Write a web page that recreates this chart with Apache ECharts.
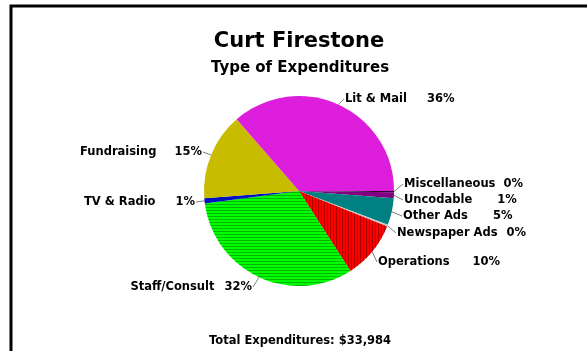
<!DOCTYPE html>
<html>
<head>
<meta charset="utf-8">
<script src="https://cdn.jsdelivr.net/npm/echarts@6/dist/echarts.min.js"></script>
<style>
html,body{margin:0;padding:0;background:#fff;}
#chart{width:587px;height:351px;}
</style>
</head>
<body>
<div id="chart"></div>
<script>
// ---- data (clockwise from 3 o'clock) ----
const categories = ['Miscellaneous','Uncodable','Other Ads','Newspaper Ads','Operations','Staff/Consult','TV & Radio','Fundraising','Lit & Mail'];
const shares = [0.2, 1.0, 4.6, 0.3, 9.8, 32.0, 0.9, 14.8, 36.4];
const percentLabels = ['0%','1%','5%','0%','10%','32%','1%','15%','36%'];
const titleText = 'Curt Firestone';
const subtitleText = 'Type of Expenditures';
const totalText = 'Total Expenditures: $33,984';

// ---- styling / layout ----
const FONT = 'DejaVu Sans';
const sliceStyle = {
  'Miscellaneous': {color:'#2a0a2a'},
  'Uncodable': {color:'#800080'},
  'Other Ads': {color:'#008080'},
  'Newspaper Ads': {color:'#c8c8c8'},
  'Operations': {color:'#ff0000', decal:{symbol:'rect', symbolSize:1, dashArrayX:[1,2], dashArrayY:[1,0], color:'rgba(110,0,0,0.55)'}},
  'Staff/Consult': {color:'#00ff00', decal:{symbol:'rect', symbolSize:1, dashArrayX:[1,0], dashArrayY:[1,2], color:'rgba(0,90,0,0.45)'}},
  'TV & Radio': {color:'#0010c0'},
  'Fundraising': {color:'#c8bc00'},
  'Lit & Mail': {color:'#dc1edc'}
};
// label anchor: side ('L' = text starts at x, 'R' = text ends at x), y center, gap between name and percent
const labelPlace = {
  'Miscellaneous': {side:'L', x:404, y:184, gap:8},
  'Uncodable': {side:'L', x:404, y:200, gap:25},
  'Other Ads': {side:'L', x:403, y:216, gap:25},
  'Newspaper Ads': {side:'L', x:397, y:233, gap:9},
  'Operations': {side:'L', x:378, y:262, gap:23},
  'Staff/Consult': {side:'R', x:252, y:287, gap:10},
  'TV & Radio': {side:'R', x:195, y:202, gap:20},
  'Fundraising': {side:'R', x:202, y:152, gap:18},
  'Lit & Mail': {side:'L', x:345, y:99, gap:20}
};

const chart = echarts.init(document.getElementById('chart'), null, {renderer:'canvas'});

const richGaps = {};
Object.values(labelPlace).forEach(p => { richGaps['g' + p.gap] = {width: p.gap}; });

const data = categories.map((name, i) => ({
  name: name,
  value: shares[i],
  itemStyle: Object.assign({}, sliceStyle[name])
}));

const option = {
  animation: false,
  backgroundColor: '#ffffff',
  graphic: [
    {type:'rect', shape:{x:11, y:6, width:620, height:400}, style:{fill:'none', stroke:'#000', lineWidth:3}, silent:true},
    {type:'text', x:299, y:42, style:{text:titleText, font:'bold 21px "' + FONT + '"', fill:'#000', align:'center', verticalAlign:'middle'}},
    {type:'text', x:300, y:68, style:{text:subtitleText, font:'bold 15px "' + FONT + '"', fill:'#000', align:'center', verticalAlign:'middle'}},
    {type:'text', x:300, y:341, style:{text:totalText, font:'bold 11.5px "' + FONT + '"', fill:'#000', align:'center', verticalAlign:'middle'}}
  ],
  series: [{
    type: 'pie',
    center: [299, 191],
    radius: [0, 95],
    startAngle: 0,
    clockwise: true,
    minAngle: 0,
    avoidLabelOverlap: false,
    itemStyle: {borderWidth: 0},
    emphasis: {disabled: true},
    label: {
      show: true,
      position: 'outside',
      fontFamily: FONT,
      fontWeight: 'bold',
      fontSize: 11.5,
      color: '#000',
      formatter: function (p) {
        const lp = labelPlace[p.name];
        return '{n|' + p.name + '}{g' + lp.gap + '|}{n|' + percentLabels[p.dataIndex] + '}';
      },
      rich: Object.assign({n: {fontFamily: FONT, fontWeight:'bold', fontSize: 11.5, color:'#000'}}, richGaps)
    },
    labelLine: {show: true, length: 4, length2: 4, lineStyle: {color:'#808080', width: 1}},
    labelLayout: function (params) {
      const name = categories[params.dataIndex];
      const lp = labelPlace[name];
      const pts = params.labelLinePoints;
      const start = pts ? pts[0] : null;
      const endX = lp.side === 'L' ? lp.x - 1 : lp.x + 1;
      return {
        x: lp.x,
        y: lp.y,
        align: lp.side === 'L' ? 'left' : 'right',
        verticalAlign: 'middle',
        labelLinePoints: start ? [start, [endX, lp.y], [endX, lp.y]] : undefined
      };
    },
    data: data
  }]
};
chart.setOption(option);
</script>
</body>
</html>
